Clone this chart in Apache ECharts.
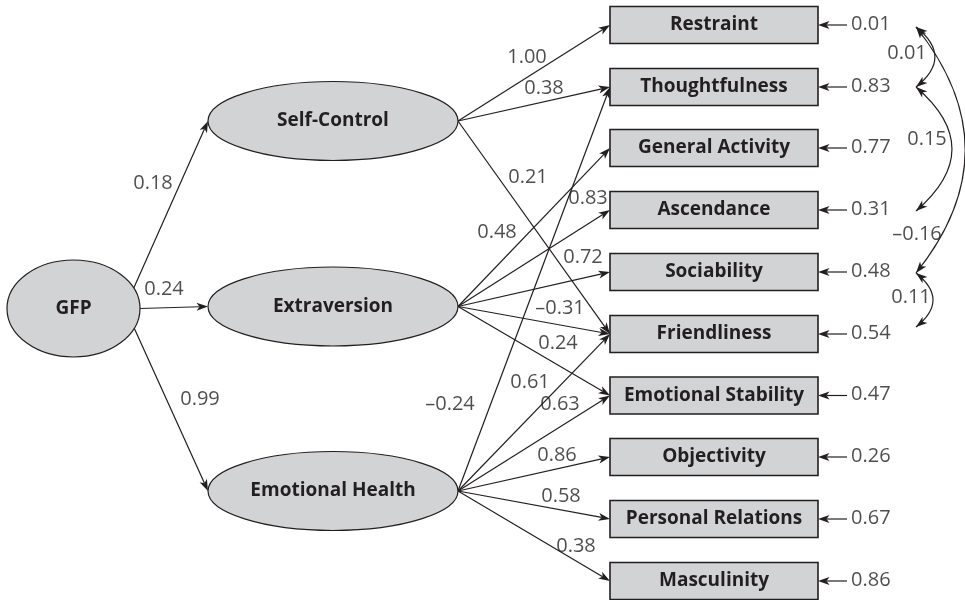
<!DOCTYPE html>
<html>
<head>
<meta charset="utf-8">
<title>GFP model</title>
<script src="https://cdn.jsdelivr.net/npm/echarts@6/dist/echarts.min.js"></script>
<style>
  html, body { margin: 0; padding: 0; background: #fff; }
  #chart { width: 965px; height: 600px; }
</style>
</head>
<body>
<div id="chart"></div>
<script>
// ---- model values ----
const latents = ['GFP', 'Self-Control', 'Extraversion', 'Emotional Health'];
const indicators = [
  'Restraint', 'Thoughtfulness', 'General Activity', 'Ascendance', 'Sociability',
  'Friendliness', 'Emotional Stability', 'Objectivity', 'Personal Relations', 'Masculinity'
];
const residuals = [0.01, 0.83, 0.77, 0.31, 0.48, 0.54, 0.47, 0.26, 0.67, 0.86];
const structuralPaths = [
  ['GFP', 'Self-Control', 0.18],
  ['GFP', 'Extraversion', 0.24],
  ['GFP', 'Emotional Health', 0.99]
];
const loadings = [
  ['Self-Control', 'Restraint', 1.00],
  ['Self-Control', 'Thoughtfulness', 0.38],
  ['Self-Control', 'Friendliness', 0.21],
  ['Extraversion', 'General Activity', 0.48],
  ['Extraversion', 'Ascendance', 0.83],
  ['Extraversion', 'Sociability', 0.72],
  ['Extraversion', 'Friendliness', -0.31],
  ['Extraversion', 'Emotional Stability', 0.24],
  ['Emotional Health', 'Thoughtfulness', -0.24],
  ['Emotional Health', 'Friendliness', 0.61],
  ['Emotional Health', 'Emotional Stability', 0.63],
  ['Emotional Health', 'Objectivity', 0.86],
  ['Emotional Health', 'Personal Relations', 0.58],
  ['Emotional Health', 'Masculinity', 0.38]
];
const residualCorrelations = [
  ['Restraint', 'Thoughtfulness', 0.01],
  ['Thoughtfulness', 'Ascendance', 0.15],
  ['Restraint', 'Sociability', -0.16],
  ['Sociability', 'Friendliness', 0.11]
];

// ---- layout (pixel frame 965 x 600) ----
const latentCenter = {
  'GFP': [73.5, 308.5],
  'Self-Control': [333, 121],
  'Extraversion': [333, 306.5],
  'Emotional Health': [333, 491]
};
const latentSize = {
  'GFP': [133, 97],
  'Self-Control': [250, 79],
  'Extraversion': [250, 79],
  'Emotional Health': [250, 79]
};
const gfpExitAngle = { 'Self-Control': -25, 'Extraversion': 0, 'Emotional Health': 24 };
const boxCenterX = 714;
const boxSize = [208, 37];
const boxCenterY = [25, 87, 148, 210, 272, 334, 395.5, 457, 519, 581];
const residualFromX = 847;
const corrX = 916;
const corrBend = [0.63, 0.58, 0.4, 0.63];
const corrEndNudge = [[2, 0], [0, 1], [2, 1], [1, -7]];
const pathLabelAt = [[153, 183], [164, 289], [200, 399]];
const loadingLabelAt = [
  [527, 57], [544, 88], [528, 177],
  [497, 232], [588, 198], [583, 257], [560, 308], [558, 343],
  [450, 404], [530, 382], [560, 404], [557, 455], [561, 496], [576, 546]
];
const corrLabelAt = [[907, 53], [927, 139], [917, 234], [911, 297]];

const ink = '#231f20';
const fill = '#d1d3d4';
const font = '"Open Sans", "Noto Sans", sans-serif';
const HEAD = { len: 11.5, half: 4, notch: 8.5 };

const fmt = v => (v < 0 ? '\u2013' : '') + Math.abs(v).toFixed(2);
const boxLeft = name => [boxCenterX - boxSize[0] / 2, boxCenterY[indicators.indexOf(name)]];
const latentLeft = name => [latentCenter[name][0] - latentSize[name][0] / 2, latentCenter[name][1]];
const latentRight = name => [latentCenter[name][0] + latentSize[name][0] / 2, latentCenter[name][1]];
const gfpExit = target => {
  const c = latentCenter.GFP, s = latentSize.GFP, a = gfpExitAngle[target] * Math.PI / 180;
  return [c[0] + s[0] / 2 * Math.cos(a), c[1] + s[1] / 2 * Math.sin(a)];
};

// notched arrowhead with its tip on `tip`, pointing away from `from`
function arrowHead(tip, from) {
  const dx = tip[0] - from[0], dy = tip[1] - from[1];
  const len = Math.hypot(dx, dy), ux = dx / len, uy = dy / len;
  const bx = tip[0] - ux * HEAD.len, by = tip[1] - uy * HEAD.len;
  return [
    tip,
    [bx - uy * HEAD.half, by + ux * HEAD.half],
    [tip[0] - ux * HEAD.notch, tip[1] - uy * HEAD.notch],
    [bx + uy * HEAD.half, by - ux * HEAD.half]
  ];
}

// straight arrows: [x1, y1, x2, y2]
const arrowData = []
  .concat(structuralPaths.map(p => gfpExit(p[1]).concat(latentLeft(p[1]))))
  .concat(loadings.map(p => latentRight(p[0]).concat(boxLeft(p[1]))))
  .concat(residuals.map((r, i) => [residualFromX, boxCenterY[i], boxCenterX + boxSize[0] / 2, boxCenterY[i]]));

// curved two-headed arrows: [x1, y1, x2, y2, bend]
const corrData = residualCorrelations.map((c, i) => [
  corrX, boxCenterY[indicators.indexOf(c[0])] + corrEndNudge[i][0],
  corrX, boxCenterY[indicators.indexOf(c[1])] + corrEndNudge[i][1],
  corrBend[i]
]);

// nodes: [x, y, w, h]
const nodeNames = latents.concat(indicators);
const nodeData = latents.map(n => latentCenter[n].concat(latentSize[n]))
  .concat(indicators.map((n, i) => [boxCenterX, boxCenterY[i]].concat(boxSize)));

const coefLabels = []
  .concat(structuralPaths.map((p, i) => ({ name: fmt(p[2]), value: pathLabelAt[i] })))
  .concat(loadings.map((p, i) => ({ name: fmt(p[2]), value: loadingLabelAt[i] })))
  .concat(residualCorrelations.map((c, i) => ({ name: fmt(c[2]), value: corrLabelAt[i] })));
const residualLabels = residuals.map((r, i) => ({ name: fmt(r), value: [residualFromX + 4, boxCenterY[i] - 1] }));

const chart = echarts.init(document.getElementById('chart'));
chart.setOption({
  animation: false,
  backgroundColor: '#fff',
  grid: { left: 0, right: 0, top: 0, bottom: 0 },
  xAxis: { type: 'value', min: 0, max: 965, show: false },
  yAxis: { type: 'value', min: 0, max: 600, inverse: true, show: false },
  series: [
    {
      type: 'custom',
      name: 'paths',
      coordinateSystem: 'cartesian2d',
      silent: true,
      z: 2,
      encode: { x: [0, 2], y: [1, 3] },
      data: arrowData,
      renderItem: (params, api) => {
        const a = api.coord([api.value(0), api.value(1)]);
        const b = api.coord([api.value(2), api.value(3)]);
        const head = arrowHead(b, a);
        return {
          type: 'group',
          children: [
            { type: 'line', shape: { x1: a[0], y1: a[1], x2: head[2][0], y2: head[2][1] },
              style: { stroke: ink, lineWidth: 1.2 } },
            { type: 'polygon', shape: { points: head }, style: { fill: ink } }
          ]
        };
      }
    },
    {
      type: 'custom',
      name: 'correlations',
      coordinateSystem: 'cartesian2d',
      silent: true,
      z: 2,
      encode: { x: [0, 2], y: [1, 3] },
      data: corrData,
      renderItem: (params, api) => {
        const a = api.coord([api.value(0), api.value(1)]);
        const b = api.coord([api.value(2), api.value(3)]);
        const bend = api.value(4);
        const cp = [(a[0] + b[0]) / 2 - (a[1] - b[1]) * bend, (a[1] + b[1]) / 2 - (b[0] - a[0]) * bend];
        return {
          type: 'group',
          children: [
            { type: 'bezierCurve', shape: { x1: a[0], y1: a[1], x2: b[0], y2: b[1], cpx1: cp[0], cpy1: cp[1] },
              style: { stroke: ink, lineWidth: 1.2, fill: null } },
            { type: 'polygon', shape: { points: arrowHead(a, cp) }, style: { fill: ink } },
            { type: 'polygon', shape: { points: arrowHead(b, cp) }, style: { fill: ink } }
          ]
        };
      }
    },
    {
      type: 'custom',
      name: 'variables',
      coordinateSystem: 'cartesian2d',
      silent: true,
      z: 3,
      encode: { x: 0, y: 1 },
      data: nodeData,
      renderItem: (params, api) => {
        const c = api.coord([api.value(0), api.value(1)]);
        const w = api.value(2), h = api.value(3);
        const isLatent = params.dataIndex < latents.length;
        const el = isLatent
          ? { type: 'ellipse', shape: { cx: c[0], cy: c[1], rx: w / 2, ry: h / 2 },
              style: { fill: fill, stroke: ink, lineWidth: 1.2 } }
          : { type: 'rect', shape: { x: c[0] - w / 2, y: c[1] - h / 2, width: w, height: h },
              style: { fill: fill, stroke: ink, lineWidth: 1.6 } };
        el.textContent = {
          style: { text: nodeNames[params.dataIndex], fill: ink, fontFamily: font, fontWeight: 'bold', fontSize: 19 }
        };
        el.textConfig = { position: 'inside' };
        return el;
      }
    },
    {
      type: 'scatter',
      silent: true,
      z: 4,
      symbolSize: 0,
      label: {
        show: true, position: 'inside', formatter: '{b}',
        color: ink, fontFamily: font, fontSize: 20
      },
      data: coefLabels
    },
    {
      type: 'scatter',
      silent: true,
      z: 4,
      symbolSize: 0,
      label: {
        show: true, position: 'right', distance: 0, formatter: '{b}',
        color: ink, fontFamily: font, fontSize: 20
      },
      data: residualLabels
    }
  ]
});
</script>
</body>
</html>
